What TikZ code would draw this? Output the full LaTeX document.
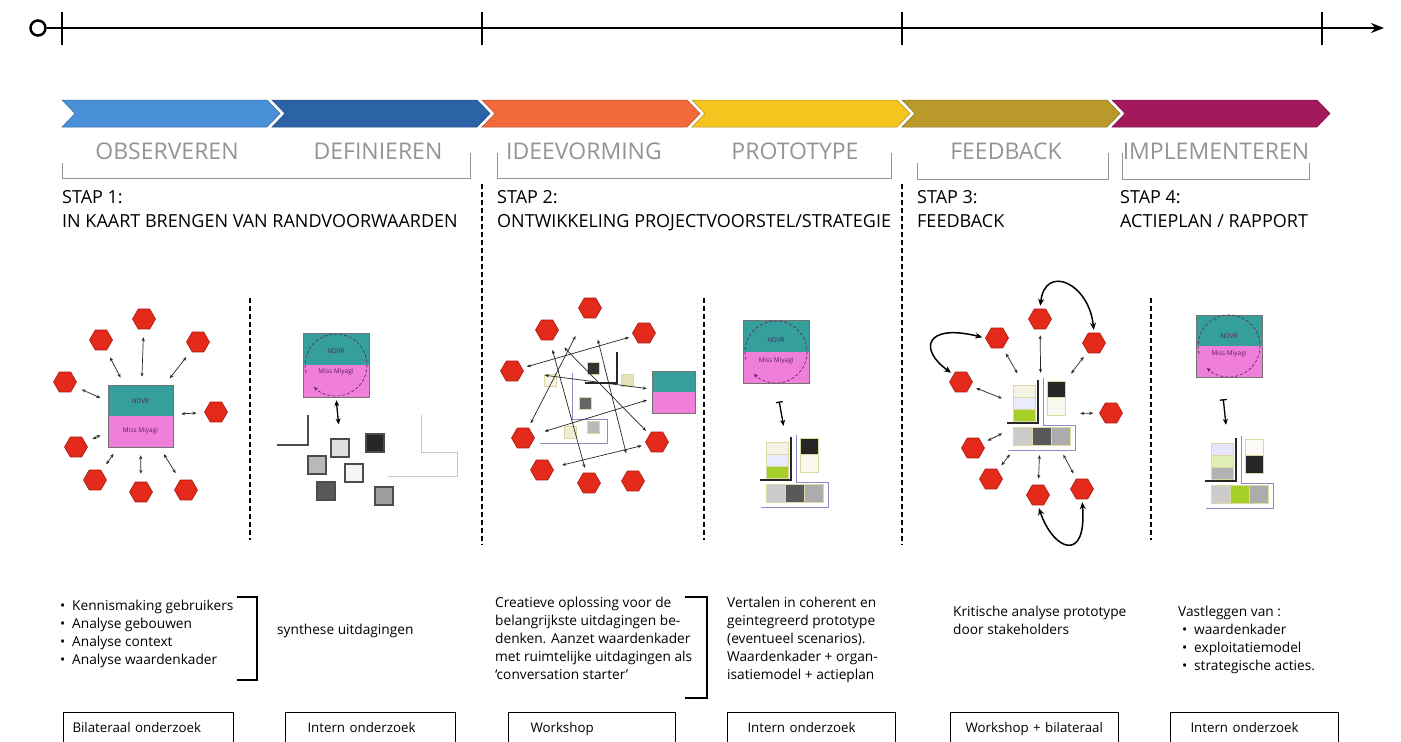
\documentclass[tikz,border=0pt]{standalone}
\usepackage{fontspec}
\setmainfont{Open Sans}
\usetikzlibrary{shapes.geometric,arrows.meta,positioning}

\definecolor{chevA}{HTML}{4A90D9}
\definecolor{chevB}{HTML}{2C62A6}
\definecolor{chevC}{HTML}{F26A3B}
\definecolor{chevD}{HTML}{F6C41E}
\definecolor{chevE}{HTML}{B8992A}
\definecolor{chevF}{HTML}{A3195B}
\definecolor{hexred}{HTML}{E42B1B}
\definecolor{hexedge}{HTML}{A8180E}
\definecolor{boxteal}{HTML}{35A09B}
\definecolor{boxpink}{HTML}{F07FD9}
\definecolor{lime}{HTML}{A7CF2A}
\definecolor{tileedge}{HTML}{DDD8A2}
\definecolor{lineblue}{HTML}{8C8CCB}
\definecolor{labelgray}{HTML}{949494}
\definecolor{boxink}{HTML}{5B1E63}

\tikzset{
  hexa/.style={regular polygon, regular polygon sides=6, minimum size=23pt, inner sep=0pt,
    fill=hexred, draw=hexedge, line width=0.6pt},
  link/.style={{Stealth[length=4pt,width=3.2pt]}-{Stealth[length=4pt,width=3.2pt]},
    line width=0.7pt, black!85, shorten <=5pt, shorten >=5pt},
  loopy/.style={{Stealth[length=7pt,width=6pt]}-{Stealth[length=7pt,width=6pt]},
    line width=1.5pt, shorten <=3pt, shorten >=3pt},
  barrow/.style={{Bar[width=7pt]}-{Stealth[length=6pt,width=5pt]}, line width=1.3pt},
  duobox/.style={draw=black!55, line width=0.6pt, minimum width=66pt, minimum height=63pt,
    inner sep=0pt, path picture={
      \fill[boxteal] (path picture bounding box.north west) rectangle (path picture bounding box.east);
      \fill[boxpink] (path picture bounding box.west) rectangle (path picture bounding box.south east);}},
  boxtxt/.style={font=\fontsize{6.5}{7}\selectfont, text=boxink, inner sep=0pt},
  circ/.style={densely dashed, line width=0.6pt, boxink},
  tile/.style={minimum size=18pt, inner sep=0pt, draw=black!70, line width=1.2pt},
  smalltile/.style={minimum size=12pt, inner sep=0pt, draw=tileedge, line width=1pt},
  tilebd/.style={draw=tileedge, line width=1pt},
  darkL/.style={line width=1.4pt, black!85},
  blueL/.style={line width=0.8pt, lineblue},
  sep/.style={line width=1.2pt, dash pattern=on 5pt off 3pt},
  stagelbl/.style={font=\fontsize{23}{26}\selectfont, text=labelgray, inner sep=0pt},
  stephd/.style={anchor=north west, inner sep=0pt, align=left, font=\fontsize{18}{24}\selectfont},
  note/.style={anchor=north west, inner sep=0pt, align=left, font=\fontsize{13.7}{18}\selectfont},
  obox/.style={draw, line width=1pt, anchor=north west, minimum height=40pt, inner ysep=0pt,
    align=left, text height=9pt, text depth=9pt, font=\fontsize{13.3}{15}\selectfont}
}

% group of tiles with its two corner lines
\newcommand{\stackgrp}[8]{%
  \begin{scope}[shift={(#2)}]
    \node[minimum width=70pt, minimum height=74pt, inner sep=0pt] (#1) at (34,36) {};
    \draw[tilebd, fill=#3] (6,7) rectangle (28,19);
    \draw[tilebd, fill=#4] (6,19) rectangle (28,31);
    \draw[tilebd, fill=#5] (6,31) rectangle (28,43);
    \draw[tilebd, fill=#6] (40,3) rectangle (58,19);
    \draw[tilebd, fill=#7] (40,19) rectangle (58,37);
    \draw[tilebd, fill=gray!40] (6,49) rectangle (25,67);
    \draw[tilebd, fill=#8] (25,49) rectangle (44,67);
    \draw[tilebd, fill=gray!65] (44,49) rectangle (63,67);
    \draw[darkL] (0,45) -- (31,45) -- (31,2);
    \draw[blueL] (36,0) -- (36,47) -- (68,47) -- (68,72) -- (1,72);
  \end{scope}}

\begin{document}
\begin{tikzpicture}[x=1pt, y=-1pt]
  \fill[white] (0,0) rectangle (1401,742);
  \useasboundingbox (0,0) rectangle (1401,742);

  % timeline
  \node[circle, draw, line width=2.5pt, minimum size=15pt, inner sep=0pt] (tl0) at (38,28) {};
  \coordinate (tlend) at (1384,28);
  \draw[line width=2.5pt, -{Stealth[length=13pt,width=10pt]}] (tl0) -- (tlend);
  \foreach \x in {62,482,902,1322}
    \draw[line width=1.8pt] (\x,12) -- (\x,45);

  % chevrons
  \foreach \x/\c in {62/chevA,272/chevB,482/chevC,692/chevD,902/chevE,1112/chevF}
    \filldraw[fill=\c, draw=\c!75!black, line width=0.5pt]
      (\x,100) -- ++(205,0) -- ++(13,13.5) -- ++(-13,13.5) -- ++(-205,0) -- ++(13,-13.5) -- cycle;

  % stage labels and brackets
  \node[stagelbl] (lobs) at (167,151) {OBSERVEREN};
  \node[stagelbl] (ldef) at (378,151) {DEFINIEREN};
  \node[stagelbl] (lide) at (584,151) {IDEEVORMING};
  \node[stagelbl] (lpro) at (795,151) {PROTOTYPE};
  \node[stagelbl] (lfee) at (1006,151) {FEEDBACK};
  \node[stagelbl] (limp) at (1216,151) {IMPLEMENTEREN};
  \draw[labelgray, line width=0.8pt] (62,163) -- (62,178) -- (470,178) -- (470,153);
  \draw[labelgray, line width=0.8pt] (497,153) -- (497,178) -- (891,178) -- (891,153);
  \draw[labelgray, line width=0.8pt] (917,163) -- (917,179) -- (1108,179) -- (1108,153);
  \draw[labelgray, line width=0.8pt] (1122,153) -- (1122,179) -- (1309,179) -- (1309,163);

  % step headers
  \node[stephd] (st1) at (62,190) {STAP 1:\\IN KAART BRENGEN VAN RANDVOORWAARDEN};
  \node[stephd] (st2) at (497,190) {STAP 2:\\ONTWIKKELING PROJECTVOORSTEL/STRATEGIE};
  \node[stephd] (st3) at (917,190) {STAP 3:\\FEEDBACK};
  \node[stephd] (st4) at (1120,190) {STAP 4:\\ACTIEPLAN / RAPPORT};

  % separators
  \foreach \x in {482,902}
    \draw[sep] (\x,184) -- (\x,545);
  \foreach \x in {250,704,1151}
    \draw[sep] (\x,298) -- (\x,540);

  % stap 1: stakeholders round the box
  \node[duobox, minimum width=65pt, minimum height=62pt] (b1a) at (140.5,416) {};
  \node[boxtxt] at ([yshift=15pt]b1a.center) {NDVR};
  \node[boxtxt] at ([yshift=-15pt]b1a.center) {Miss Miyagi};
  \foreach \n/\x/\y in {1/144/319, 2/101/340, 3/198/342, 4/65/382, 5/216/412,
                        6/76/447, 7/95/480, 8/141/492, 9/186/490}
    \node[hexa] (h1\n) at (\x,\y) {};
  \foreach \n in {1,...,9}
    \draw[link, shorten <=8pt, shorten >=8pt] (h1\n) -- (b1a);

  % stap 1: synthesis
  \node[duobox, minimum height=64pt] (b1b) at (336,365) {};
  \node[boxtxt] at ([yshift=14pt]b1b.center) {NDVR};
  \node[boxtxt] at ([yshift=-7pt]b1b.center) {Miss Miyagi};
  \draw[circ, -{Stealth[length=4pt,width=3.5pt]}] (b1b.center) ++(-195:31)
    arc[start angle=-195, end angle=135, radius=31];
  \foreach \n/\x/\y/\c in {1/340/448/gray!25, 2/375/443/black!85, 3/317/465/gray!55,
                           4/354/473/gray!8, 5/326/491/black!65, 6/384/496/gray!75}
    \node[tile, fill=\c] (t\n) at (\x,\y) {};
  \draw[{Stealth[length=6pt,width=5pt]}-{Stealth[length=6pt,width=5pt]}, line width=1.3pt,
    shorten <=3pt, shorten >=14pt] (b1b.south) -- (t1.north);
  \draw[line width=1.2pt, black!70] (277,445) -- (308,445) -- (308,415);
  \draw[line width=0.8pt, gray!45] (421,415) -- (421,452) -- (457,452) -- (457,476) -- (388,476);

  % stap 2: ideas
  \node[duobox, minimum width=43pt, minimum height=42pt] (b2a) at (673.5,392) {};
  \foreach \n/\x/\y/\c in {1/593/368/black!80, 2/550/380/tileedge!25, 3/627/380/tileedge!75,
                           4/585/403/black!60, 5/570/432/tileedge!45, 6/593/427/gray!55}
    \node[smalltile, fill=\c] (q\n) at (\x,\y) {};
  \draw[line width=1.5pt, black!85] (617,352) -- (617,383) -- (585,383);
  \draw[blueL] (572,373) -- (572,419) -- (607,419) -- (607,443) -- (540,443);
  \foreach \n/\x/\y in {1/590/308, 2/547/330, 3/644/333, 4/512/371, 5/523/438,
                        6/657/442, 7/542/470, 8/589/483, 9/633/481}
    \node[hexa] (h2\n) at (\x,\y) {};
  \draw[link] (h24) -- (h23);
  \draw[link, shorten >=20pt] (h25) -- (h21);
  \draw[link, shorten <=14pt] (h22) -- (h26);
  \draw[link, shorten <=10pt] (h22) -- (h28);
  \draw[link, shorten <=22pt, shorten >=18pt] (h21) -- (h29);
  \draw[link, shorten <=10pt] (h27) -- (h26);
  \draw[link, shorten <=12pt] (h25) -- (b2a);
  \draw[link, shorten <=22pt] (h24) -- (b2a);

  % stap 2: prototype
  \node[duobox] (b2b) at (776,352) {};
  \node[boxtxt] at ([yshift=12pt]b2b.center) {NDVR};
  \node[boxtxt] at ([yshift=-9pt]b2b.center) {Miss Miyagi};
  \draw[circ, -{Stealth[length=4pt,width=3.5pt]}] (b2b.center) ++(-195:31)
    arc[start angle=-195, end angle=135, radius=31];
  \stackgrp{g2}{760,435}{tileedge!30}{blue!8}{lime}{black!85}{tileedge!15}{black!65}
  \draw[barrow, shorten <=18pt, shorten >=8pt] (b2b.south) -- ([xshift=-9pt]g2.north);

  % stap 3: feedback
  \stackgrp{g3}{1007,378}{tileedge!30}{blue!8}{lime}{black!85}{tileedge!15}{black!65}
  \foreach \n/\x/\y in {1/1040/319, 2/997/338, 3/1094/343, 4/961/382, 5/1111/413,
                        6/973/448, 7/991/479, 8/1038/495, 9/1082/489}
    \node[hexa] (h3\n) at (\x,\y) {};
  \foreach \n in {1,...,9}
    \draw[link, shorten <=6pt, shorten >=4pt] (h3\n) -- (g3);
  \draw[loopy] (h31.north) .. controls +(5,-45) and +(-5,-50) .. (h33.north);
  \draw[loopy] (h32.west) .. controls +(-60,-15) and +(-35,-25) .. (h34.north west);
  \draw[loopy] (h38.south) .. controls +(15,45) and +(5,65) .. (h39.south);

  % stap 4: implementation
  \node[duobox, minimum height=62pt] (b4) at (1229,346) {};
  \node[boxtxt] at ([yshift=10pt]b4.center) {NDVR};
  \node[boxtxt] at ([yshift=-8pt]b4.center) {Miss Miyagi};
  \draw[circ, -{Stealth[length=4pt,width=3.5pt]}] (b4.center) ++(-195:31)
    arc[start angle=-195, end angle=135, radius=31];
  \stackgrp{g4}{1205,436}{blue!10}{lime!35}{gray!60}{tileedge!10}{black!85}{lime}
  \draw[barrow, shorten <=22pt, shorten >=10pt] ([xshift=-8pt]b4.south) -- ([xshift=-12pt]g4.north);

  % notes
  \node[note] (n1) at (60,600) {\textbullet\enspace Kennismaking gebruikers\\
    \textbullet\enspace Analyse gebouwen\\ \textbullet\enspace Analyse context\\
    \textbullet\enspace Analyse waardenkader};
  \draw[line width=1.3pt] (237,597) -- (257,597) -- (257,680) -- (237,680);
  \node[note] (n2) at (277,624) {synthese uitdagingen};
  \node[note] (n3) at (495,597) {Creatieve oplossing voor de\\belangrijkste uitdagingen be-\\
    denken. Aanzet waardenkader\\met ruimtelijke uitdagingen als\\`conversation starter'};
  \draw[line width=1.3pt] (685,597) -- (707,597) -- (707,698) -- (685,698);
  \node[note] (n4) at (727,597) {Vertalen in coherent en\\geintegreerd prototype\\
    (eventueel scenarios).\\Waardenkader + organ-\\isatiemodel + actieplan};
  \node[note] (n5) at (953,606) {Kritische analyse prototype\\door stakeholders};
  \node[note] (n6) at (1178,606) {Vastleggen van :\\
    \hspace{4pt}\textbullet\enspace waardenkader\\ \hspace{4pt}\textbullet\enspace exploitatiemodel\\
    \hspace{4pt}\textbullet\enspace strategische acties.};

  % method boxes
  \node[obox, inner xsep=9pt, text width=152pt] (m1) at (63,712) {Bilateraal onderzoek};
  \node[obox, inner xsep=22pt, text width=126pt] (m2) at (285,712) {Intern onderzoek};
  \node[obox, inner xsep=22pt, text width=123pt] (m3) at (508,712) {Workshop};
  \node[obox, inner xsep=20pt, text width=128pt] (m4) at (727,712) {Intern onderzoek};
  \node[obox, inner xsep=15pt, text width=138pt] (m5) at (950,712) {Workshop + bilateraal};
  \node[obox, inner xsep=20pt, text width=128pt] (m6) at (1170,712) {Intern onderzoek};
\end{tikzpicture}
\end{document}
